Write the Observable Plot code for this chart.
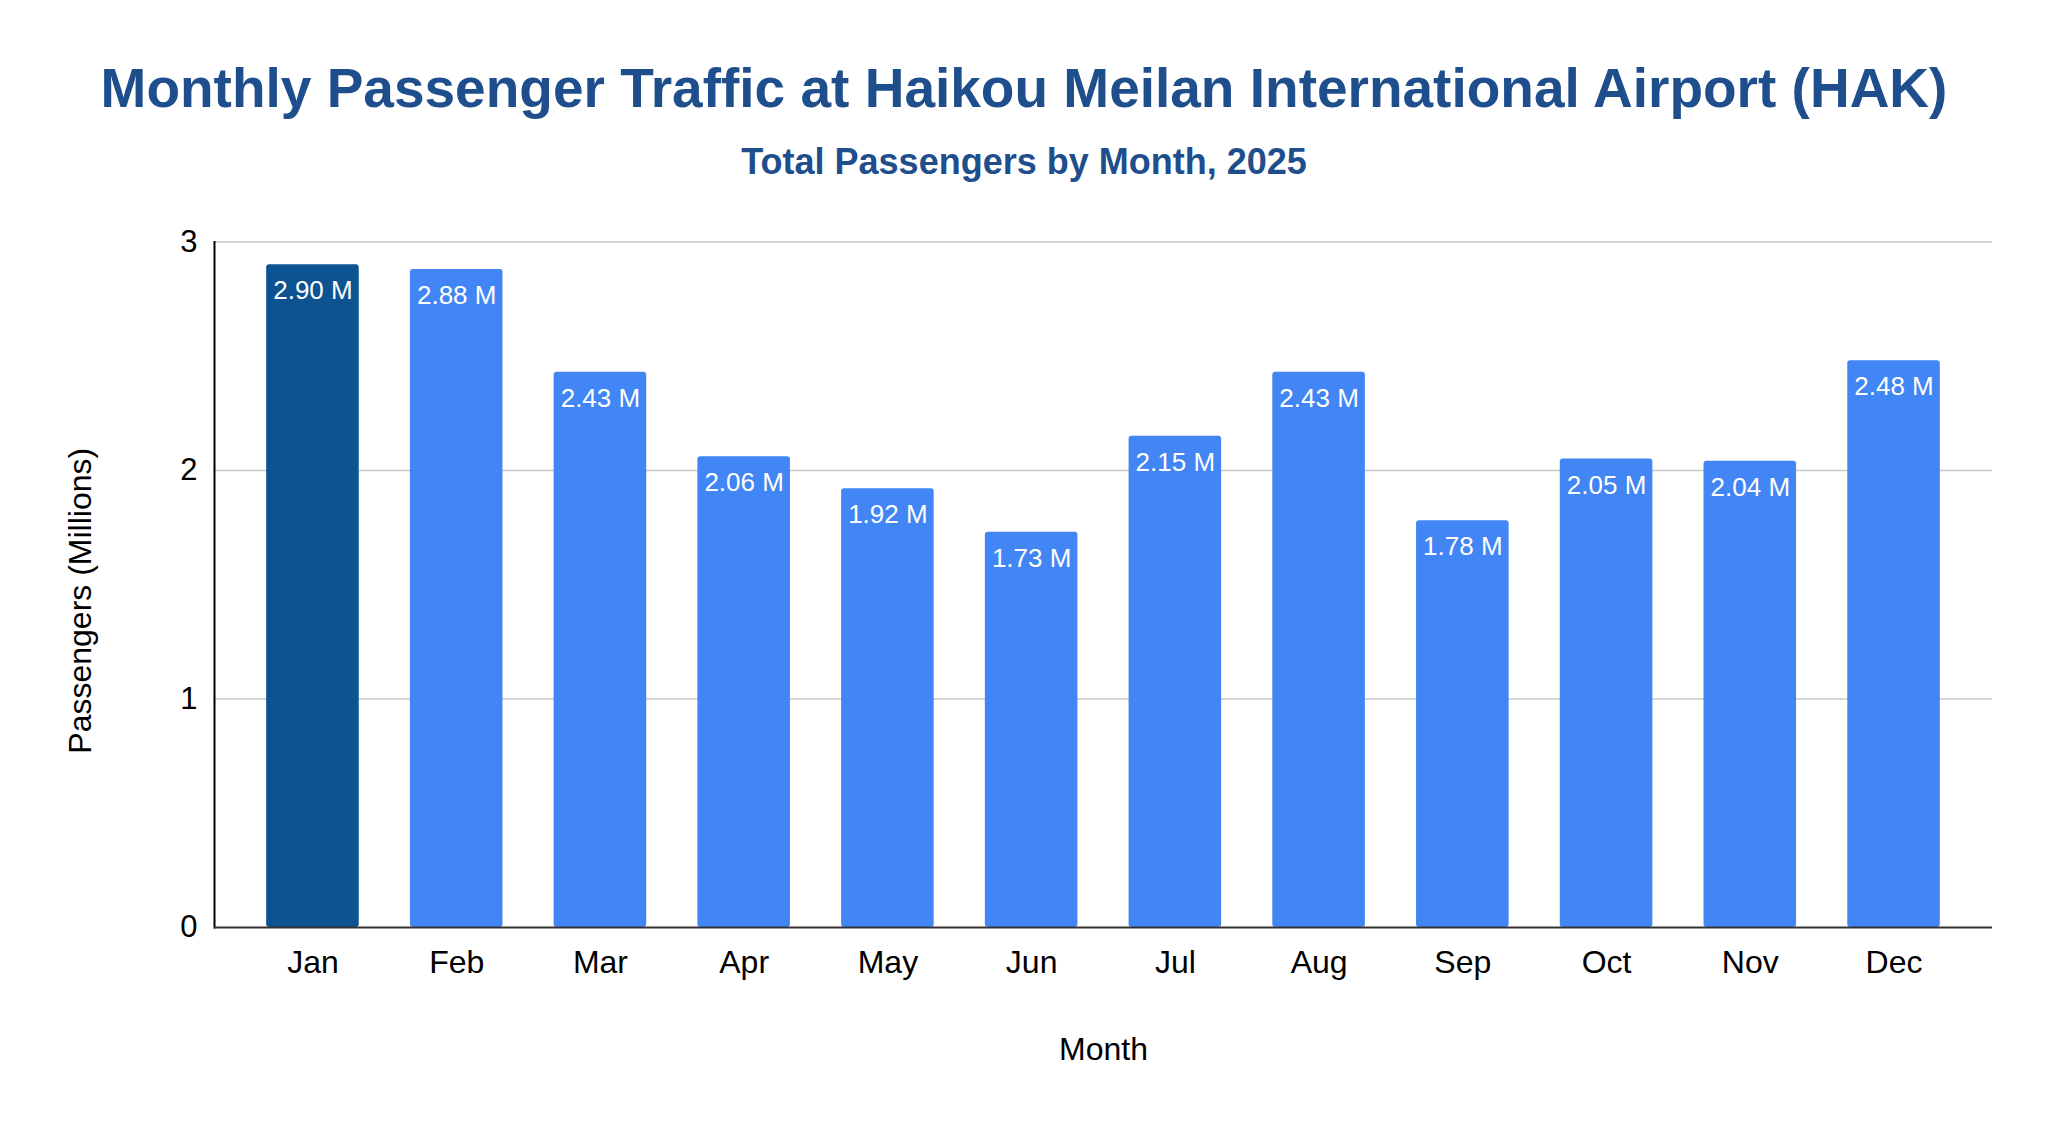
<!DOCTYPE html>
<html><head><meta charset="utf-8">
<script src="https://cdn.jsdelivr.net/npm/d3@7"></script>
<script src="https://cdn.jsdelivr.net/npm/@observablehq/plot@0.6"></script>
<style>
html,body{margin:0;padding:0;background:#fff;}
#wrap{position:relative;width:2048px;height:1124px;overflow:hidden;font-family:"Liberation Sans",Arial,sans-serif;}
#title{position:absolute;left:0;width:2048px;top:61px;text-align:center;font-size:55px;line-height:55px;font-weight:bold;color:#1f4e8c;white-space:nowrap;}
#subtitle{position:absolute;left:0;width:2048px;top:144px;text-align:center;font-size:36px;line-height:36px;font-weight:bold;color:#1f4e8c;white-space:nowrap;}
#chart{position:absolute;left:0;top:200px;}
</style></head>
<body>
<div id="wrap">
  <div id="title">Monthly Passenger Traffic at Haikou Meilan International Airport (HAK)</div>
  <div id="subtitle">Total Passengers by Month, 2025</div>
  <div id="chart"></div>
</div>
<script>
const months = ["Jan","Feb","Mar","Apr","May","Jun","Jul","Aug","Sep","Oct","Nov","Dec"];
const passengers = [2.90, 2.88, 2.43, 2.06, 1.92, 1.73, 2.15, 2.43, 1.78, 2.05, 2.04, 2.48];
const highlightMonth = "Jan";
const yTicks = [0, 1, 2, 3];
const yLabel = "Passengers (Millions)";
const xLabel = "Month";

const data = months.map((m, i) => ({month: m, value: passengers[i]}));
const font = '"Liberation Sans", Arial, sans-serif';

const chart = Plot.plot({
  width: 2048,
  height: 924,
  marginTop: 41.5,
  marginBottom: 197,
  marginLeft: 214,
  marginRight: 56,
  style: {fontFamily: font, fontSize: "31px", background: "transparent", color: "#000"},
  x: {domain: months, paddingInner: 0.356, paddingOuter: 0.363, round: false, label: null},
  y: {domain: [0, 3], label: null},
  marks: [
    Plot.gridY(yTicks.filter(d => d > 0), {stroke: "#c8c8c8", strokeOpacity: 1, strokeWidth: 1.5}),
    Plot.barY(data, {x: "month", y: "value", fill: d => d.month === highlightMonth ? "#0d5391" : "#4285f4", rx: 3}),
    Plot.text(data, {x: "month", y: "value", text: d => d.value.toFixed(2) + " M", fill: "white", fontSize: 26, lineAnchor: "top", dy: 16}),
    Plot.axisY(yTicks, {tickSize: 0, tickPadding: 17, fontSize: 31, label: null, tickFormat: d => String(d), fill: "#000"}),
    Plot.axisX({tickSize: 0, tickPadding: 23, fontSize: 32, label: null, fill: "#000"}),
    Plot.frame({anchor: "left", stroke: "#000", strokeWidth: 2}),
    Plot.ruleY([0], {stroke: "#333", strokeWidth: 2}),
    Plot.text([yLabel], {frameAnchor: "left", textAnchor: "middle", rotate: -90, dx: -134, dy: 16, fontSize: 32, fill: "#000"}),
    Plot.text([xLabel], {frameAnchor: "bottom", lineAnchor: "top", dy: 110, fontSize: 32, fill: "#000"})
  ]
});
document.getElementById("chart").appendChild(chart);
</script>
</body></html>
